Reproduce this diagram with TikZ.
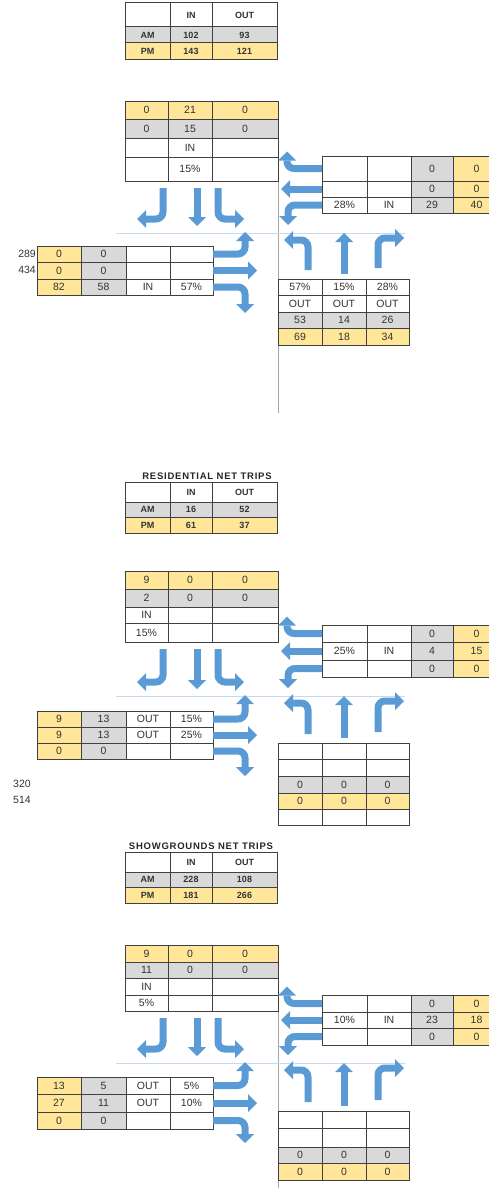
\documentclass[tikz,border=0pt]{standalone}
\usepackage{fontspec}
\setmainfont{Liberation Sans}
\usetikzlibrary{arrows.meta}
\definecolor{cellyellow}{HTML}{FFE699}
\definecolor{cellgray}{HTML}{D9D9D9}
\definecolor{arrowblue}{HTML}{5B9BD5}
\definecolor{stopblue}{HTML}{C5D9F1}
\definecolor{gridgray}{HTML}{404040}
\definecolor{axisgray}{HTML}{A6A6A6}
\definecolor{celltext}{HTML}{333333}
\newcommand{\cellfont}{\fontsize{10.5}{11}\selectfont}
\newcommand{\sumfont}{\fontsize{9}{10}\selectfont\bfseries}
\newcommand{\titlefont}{\fontsize{9.5}{10}\selectfont\bfseries\addfontfeatures{LetterSpace=8}}
\tikzset{
  cellbox/.style={draw=gridgray,line width=0.8pt,inner sep=0pt,outer sep=0pt,
                  text=celltext,font=\cellfont},
  sumbox/.style={cellbox,line width=1pt,font=\sumfont},
  mvarrow/.style={draw=arrowblue,line width=7pt,rounded corners=7pt,
                  -{Triangle[length=9pt,width=18pt,line width=0pt]}},
  stopline/.style={draw=stopblue,line width=0.8pt},
  axisline/.style={draw=axisgray,line width=1pt},
  sidelabel/.style={text=celltext,font=\cellfont,inner sep=0pt},
  tabtitle/.style={text=black!85,font=\titlefont,inner sep=0pt}
}

% one row of a count table: [style], prefix, top, bottom, cells x1/x2/fill/text
\newcommand{\tabrow}[5][cellbox]{%
  \foreach \xa/\xb/\cf/\ct [count=\ci] in {#5}
    \node[#1,fill=\cf,minimum width={(\xb-\xa)*1pt},minimum height={(#4-#3)*1pt}]
      (#2-\ci) at ({(\xa+\xb)/2},{(#3+#4)/2}) {\ct};%
}

% the twelve turning arrows of one intersection: prefix, stop line y
\newcommand{\approacharrows}[2]{%
  \draw[stopline] (116,#2) -- (405,#2);
  % southbound
  \coordinate (#1sbL) at (137,#2-14);
  \coordinate (#1sbT) at (197,#2-7);
  \coordinate (#1sbR) at (244,#2-14);
  \draw[mvarrow] ([xshift=-5pt,yshift=-7pt]#1n4-1.south east) |- (#1sbL);
  \draw[mvarrow] ([xshift=7pt,yshift=-7pt]#1n4-2.south) -- (#1sbT);
  \draw[mvarrow] ([xshift=6pt,yshift=-7pt]#1n4-3.south west) |- (#1sbR);
  % westbound
  \coordinate (#1wbU) at ([shift={(-35pt,17pt)}]#1e1-1.west);
  \coordinate (#1wbT) at ([xshift=-41pt]#1e2-1.west);
  \coordinate (#1wbD) at (288,#2-8);
  \draw[mvarrow] (#1e1-1.west) -| (#1wbU);
  \draw[mvarrow] (#1e2-1.west) -- (#1wbT);
  \draw[mvarrow] (#1e3-1.west) -| (#1wbD);
  % northbound
  \coordinate (#1nbL) at (284,#2+7);
  \coordinate (#1nbT) at (344,#2);
  \coordinate (#1nbR) at (404,#2+5);
  \draw[mvarrow] ([xshift=-14pt,yshift=9pt]#1s1-1.north east) |- (#1nbL);
  \draw[mvarrow] ([yshift=5pt]#1s1-2.north) -- (#1nbT);
  \draw[mvarrow] ([xshift=12pt,yshift=11pt]#1s1-3.north west) |- (#1nbR);
  % eastbound
  \coordinate (#1ebU) at (245,#2-1);
  \coordinate (#1ebT) at ([xshift=44pt]#1w2-4.east);
  \coordinate (#1ebD) at (245,#2+80);
  \draw[mvarrow] (#1w1-4.east) -| (#1ebU);
  \draw[mvarrow] (#1w2-4.east) -- (#1ebT);
  \draw[mvarrow] (#1w3-4.east) -| (#1ebD);
}

\begin{document}
\begin{tikzpicture}[x=1pt,y=-1pt]
  \useasboundingbox (0,0) rectangle (489,1188);

  % ---- total trips ----
  \draw[axisline] (278,101) -- (278,413);
  \tabrow[sumbox]{tq1}{3}{27}{125/170/white/{},170/212/white/IN,212/277/white/OUT}
  \tabrow[sumbox]{tq2}{27}{43}{125/170/cellgray/AM,170/212/cellgray/102,212/277/cellgray/93}
  \tabrow[sumbox]{tq3}{43}{60}{125/170/cellyellow/PM,170/212/cellyellow/143,212/277/cellyellow/121}

  \tabrow{tn1}{101}{119}{125/168/cellyellow/0,168/212/cellyellow/21,212/278/cellyellow/0}
  \tabrow{tn2}{119}{138}{125/168/cellgray/0,168/212/cellgray/15,212/278/cellgray/0}
  \tabrow{tn3}{138}{157}{125/168/white/{},168/212/white/IN,212/278/white/{}}
  \tabrow{tn4}{157}{181}{125/168/white/{},168/212/white/15\%,212/278/white/{}}

  \tabrow{te1}{156}{181}{322/367/white/{},367/411/white/{},411/453/cellgray/0,453/500/cellyellow/0}
  \tabrow{te2}{181}{197}{322/367/white/{},367/411/white/{},411/453/cellgray/0,453/500/cellyellow/0}
  \tabrow{te3}{197}{213}{322/367/white/28\%,367/411/white/IN,411/453/cellgray/29,453/500/cellyellow/40}

  \tabrow{tw1}{246}{262}{37/81/cellyellow/0,81/126/cellgray/0,126/170/white/{},170/213/white/{}}
  \tabrow{tw2}{262}{279}{37/81/cellyellow/0,81/126/cellgray/0,126/170/white/{},170/213/white/{}}
  \tabrow{tw3}{279}{295}{37/81/cellyellow/82,81/126/cellgray/58,126/170/white/IN,170/213/white/57\%}
  \node[sidelabel,anchor=east] (tvol1) at (36,254) {289};
  \node[sidelabel,anchor=east] (tvol2) at (36,270) {434};

  \tabrow{ts1}{279}{295}{278/322/white/57\%,322/366/white/15\%,366/409/white/28\%}
  \tabrow{ts2}{295}{312}{278/322/white/OUT,322/366/white/OUT,366/409/white/OUT}
  \tabrow{ts3}{312}{328}{278/322/cellgray/53,322/366/cellgray/14,366/409/cellgray/26}
  \tabrow{ts4}{328}{345}{278/322/cellyellow/69,322/366/cellyellow/18,366/409/cellyellow/34}

  \approacharrows{t}{233}

  % ---- residential ----
  \node[tabtitle] (mtitle) at (207,476) {RESIDENTIAL NET TRIPS};
  \tabrow[sumbox]{mq1}{482}{502}{125/170/white/{},170/212/white/IN,212/277/white/OUT}
  \tabrow[sumbox]{mq2}{502}{517}{125/170/cellgray/AM,170/212/cellgray/16,212/277/cellgray/52}
  \tabrow[sumbox]{mq3}{517}{533}{125/170/cellyellow/PM,170/212/cellyellow/61,212/277/cellyellow/37}

  \tabrow{mn1}{571}{589}{125/168/cellyellow/9,168/212/cellyellow/0,212/278/cellyellow/0}
  \tabrow{mn2}{589}{607}{125/168/cellgray/2,168/212/cellgray/0,212/278/cellgray/0}
  \tabrow{mn3}{607}{623}{125/168/white/IN,168/212/white/{},212/278/white/{}}
  \tabrow{mn4}{623}{642}{125/168/white/15\%,168/212/white/{},212/278/white/{}}

  \tabrow{me1}{625}{642}{322/367/white/{},367/411/white/{},411/453/cellgray/0,453/500/cellyellow/0}
  \tabrow{me2}{642}{660}{322/367/white/25\%,367/411/white/IN,411/453/cellgray/4,453/500/cellyellow/15}
  \tabrow{me3}{660}{677}{322/367/white/{},367/411/white/{},411/453/cellgray/0,453/500/cellyellow/0}

  \tabrow{mw1}{711}{727}{37/81/cellyellow/9,81/126/cellgray/13,126/170/white/OUT,170/213/white/15\%}
  \tabrow{mw2}{727}{743}{37/81/cellyellow/9,81/126/cellgray/13,126/170/white/OUT,170/213/white/25\%}
  \tabrow{mw3}{743}{759}{37/81/cellyellow/0,81/126/cellgray/0,126/170/white/{},170/213/white/{}}
  \node[sidelabel,anchor=west] (mvol1) at (13,784) {320};
  \node[sidelabel,anchor=west] (mvol2) at (13,800) {514};

  \tabrow{ms1}{743}{759}{278/322/white/{},322/366/white/{},366/409/white/{}}
  \tabrow{ms2}{759}{776}{278/322/white/{},322/366/white/{},366/409/white/{}}
  \tabrow{ms3}{776}{793}{278/322/cellgray/0,322/366/cellgray/0,366/409/cellgray/0}
  \tabrow{ms4}{793}{809}{278/322/cellyellow/0,322/366/cellyellow/0,366/409/cellyellow/0}
  \tabrow{ms5}{809}{825}{278/322/white/{},322/366/white/{},366/409/white/{}}

  \approacharrows{m}{696}

  % ---- showgrounds ----
  \draw[axisline] (278,945) -- (278,1192);
  \node[tabtitle] (btitle) at (201,846) {SHOWGROUNDS NET TRIPS};
  \tabrow[sumbox]{bq1}{852}{872}{125/170/white/{},170/212/white/IN,212/277/white/OUT}
  \tabrow[sumbox]{bq2}{872}{887}{125/170/cellgray/AM,170/212/cellgray/228,212/277/cellgray/108}
  \tabrow[sumbox]{bq3}{887}{903}{125/170/cellyellow/PM,170/212/cellyellow/181,212/277/cellyellow/266}

  \tabrow{bn1}{945}{962}{125/168/cellyellow/9,168/212/cellyellow/0,212/278/cellyellow/0}
  \tabrow{bn2}{962}{978}{125/168/cellgray/11,168/212/cellgray/0,212/278/cellgray/0}
  \tabrow{bn3}{978}{995}{125/168/white/IN,168/212/white/{},212/278/white/{}}
  \tabrow{bn4}{995}{1011}{125/168/white/5\%,168/212/white/{},212/278/white/{}}

  \tabrow{be1}{995}{1012}{322/367/white/{},367/411/white/{},411/453/cellgray/0,453/500/cellyellow/0}
  \tabrow{be2}{1012}{1028}{322/367/white/10\%,367/411/white/IN,411/453/cellgray/23,453/500/cellyellow/18}
  \tabrow{be3}{1028}{1045}{322/367/white/{},367/411/white/{},411/453/cellgray/0,453/500/cellyellow/0}

  \tabrow{bw1}{1077}{1094}{37/81/cellyellow/13,81/126/cellgray/5,126/170/white/OUT,170/213/white/5\%}
  \tabrow{bw2}{1094}{1112}{37/81/cellyellow/27,81/126/cellgray/11,126/170/white/OUT,170/213/white/10\%}
  \tabrow{bw3}{1112}{1129}{37/81/cellyellow/0,81/126/cellgray/0,126/170/white/{},170/213/white/{}}

  \tabrow{bs1}{1111}{1128}{278/322/white/{},322/366/white/{},366/409/white/{}}
  \tabrow{bs2}{1128}{1147}{278/322/white/{},322/366/white/{},366/409/white/{}}
  \tabrow{bs3}{1147}{1163}{278/322/cellgray/0,322/366/cellgray/0,366/409/cellgray/0}
  \tabrow{bs4}{1163}{1180}{278/322/cellyellow/0,322/366/cellyellow/0,366/409/cellyellow/0}

  \approacharrows{b}{1063}
\end{tikzpicture}
\end{document}
